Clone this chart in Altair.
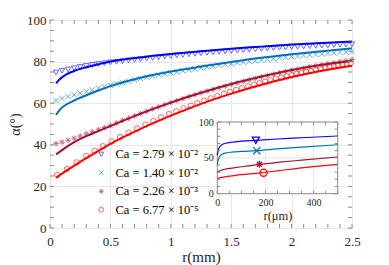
import altair as alt
import pandas as pd

# ---------------- data ----------------
series_labels = ["Ca = 2.79 × 10⁻²", "Ca = 1.40 × 10⁻²", "Ca = 2.26 × 10⁻³", "Ca = 6.77 × 10⁻⁵"]
line_colors = ["#0000FF", "#0072BD", "#A2142F", "#FF0000"]
marker_shapes = [
    "triangle-down",
    "M-1,-1L1,1M-1,1L1,-1",
    "M-1,0L1,0M0,-1L0,1M-0.72,-0.72L0.72,0.72M-0.72,0.72L0.72,-0.72",
    "circle",
]

# model curves (main plot, r in mm, alpha in degrees)
r_line = [0.05, 0.08, 0.12, 0.2, 0.3, 0.4, 0.5, 0.75, 1.0, 1.25, 1.5, 1.75, 2.0, 2.25, 2.5]
line_blue = [69.5, 71.5, 73.3, 75.5, 77.3, 78.7, 80.0, 82.0, 83.6, 85.0, 86.2, 87.2, 88.2, 89.0, 89.6]
line_teal = [54.3, 56.8, 58.8, 61.3, 63.8, 66.1, 68.2, 72.2, 75.2, 77.6, 79.8, 81.8, 83.5, 85.0, 86.4]
line_dred = [35.4, 36.6, 38.3, 41.3, 44.2, 46.6, 49.0, 55.0, 60.3, 65.0, 69.2, 72.8, 76.0, 78.5, 80.4]
line_red = [24.2, 25.4, 27.0, 30.0, 33.6, 37.1, 40.5, 47.7, 54.0, 59.7, 64.6, 68.9, 72.6, 75.6, 78.0]

# measured points
r_dense = [0.05, 0.10, 0.15, 0.20, 0.25, 0.30, 0.35, 0.40, 0.45, 0.50,
           0.55, 0.60, 0.65, 0.70, 0.75, 0.80, 0.85, 0.90, 0.95, 1.00,
           1.05, 1.10, 1.15, 1.20, 1.25, 1.30, 1.35, 1.40, 1.45, 1.50,
           1.55, 1.60, 1.65, 1.70, 1.75, 1.80, 1.85, 1.90, 1.95, 2.00,
           2.05, 2.10, 2.15, 2.20, 2.25, 2.30, 2.35, 2.40, 2.45, 2.50]
mk_blue = [74.8, 75.6, 76.2, 76.8, 77.4, 77.9, 78.4, 78.8, 79.2, 79.6,
           79.9, 80.2, 80.6, 80.9, 81.2, 81.5, 81.8, 82.1, 82.4, 82.7,
           83.0, 83.2, 83.5, 83.7, 84.0, 84.2, 84.5, 84.7, 84.9, 85.1,
           85.3, 85.5, 85.7, 85.9, 86.1, 86.3, 86.5, 86.7, 86.8, 87.0,
           87.1, 87.3, 87.4, 87.6, 87.7, 87.8, 88.0, 88.1, 88.2, 88.3]
mk_teal = [61.3, 62.3, 63.2, 64.0, 64.8, 65.6, 66.4, 67.2, 67.9, 68.6,
           69.3, 70.0, 70.6, 71.3, 71.9, 72.5, 73.0, 73.6, 74.1, 74.6,
           75.1, 75.6, 76.1, 76.5, 77.0, 77.4, 77.8, 78.2, 78.6, 79.0,
           79.4, 79.7, 80.1, 80.4, 80.8, 81.1, 81.4, 81.8, 82.1, 82.4,
           82.7, 82.9, 83.2, 83.4, 83.7, 83.9, 84.2, 84.4, 84.6, 84.8]
mk_dred = [40.6, 41.3, 42.2, 43.2, 44.2, 45.3, 46.3, 47.3, 48.3, 49.3,
           50.5, 51.7, 52.8, 53.9, 55.0, 56.1, 57.2, 58.2, 59.3, 60.3,
           61.3, 62.2, 63.2, 64.1, 65.0, 65.8, 66.6, 67.4, 68.2, 69.0,
           69.8, 70.5, 71.2, 71.9, 72.6, 73.3, 73.9, 74.6, 75.2, 75.8,
           76.4, 76.9, 77.5, 78.0, 78.5, 79.0, 79.5, 80.0, 80.5, 81.0]
r_red_mk = [0.06, 0.14, 0.22, 0.30, 0.37, 0.44, 0.51, 0.58, 0.65, 0.72,
            0.79, 0.855, 0.92, 0.985, 1.045, 1.105, 1.165, 1.22, 1.275, 1.33,
            1.385, 1.44, 1.49, 1.54, 1.59, 1.64, 1.69, 1.735, 1.78, 1.825,
            1.87, 1.915, 1.96, 2.0, 2.04, 2.08, 2.12, 2.16, 2.2, 2.24,
            2.28, 2.315, 2.35, 2.385, 2.42, 2.455, 2.49]
mk_red = [25.5, 28.4, 31.5, 34.6, 37.1, 39.3, 41.6, 43.7, 45.8, 47.8,
          49.7, 51.4, 53.1, 54.7, 56.1, 57.5, 58.8, 60.0, 61.2, 62.3,
          63.4, 64.5, 65.4, 66.3, 67.2, 68.1, 68.9, 69.6, 70.3, 71.0,
          71.7, 72.3, 72.9, 73.4, 74.0, 74.5, 75.0, 75.5, 76.0, 76.4,
          76.9, 77.3, 77.7, 78.1, 78.5, 78.9, 79.2]

# inset (r in micrometres)
inset_r = [0, 2, 5, 10, 20, 35, 60, 100, 160, 250, 350, 500]
inset_blue = [53.5, 58.0, 62.0, 65.5, 68.5, 70.3, 71.8, 73.2, 74.5, 76.3, 78.0, 80.5]
inset_teal = [40.5, 44.5, 48.5, 52.0, 55.0, 56.8, 58.0, 59.0, 60.0, 62.5, 65.0, 68.3]
inset_dred = [28.9, 30.0, 31.0, 32.0, 33.2, 34.3, 35.6, 37.6, 40.3, 43.6, 46.8, 51.2]
inset_red = [20.9, 21.3, 21.7, 22.2, 22.9, 23.7, 24.8, 26.5, 28.4, 31.9, 36.1, 41.0]
inset_mk_r = [160, 164, 175, 192]
inset_mk_a = [74.5, 60.0, 41.0, 29.3]

# ticks
x_major = [0, 0.5, 1, 1.5, 2, 2.5]
x_minor = [round(0.1 * i, 1) for i in range(26)]
y_major = [0, 20, 40, 60, 80, 100]
y_minor = list(range(0, 101, 5))
inset_x_labels = [0, 200, 400]
inset_x_minor = list(range(0, 501, 50))
inset_y_labels = [0, 50, 100]
inset_y_minor = list(range(0, 101, 10))
inset_grid_x = [200, 400]
inset_grid_y = [50]

# ---------------- style / layout ----------------
W, H = 302, 208
FONT = "Liberation Serif"
FRAME = "#8a8a8a"
GRID = "#e6e6e6"
TXT = "#262626"
TL = 4  # inward tick length
IX0, IX1 = 167.3, 287.7   # inset pixel range (x)
IY0, IY1 = 173.7, 102.0   # inset pixel range (y, bottom -> top)

x_scale = alt.Scale(domain=[0, 2.5], nice=False, zero=False)
y_scale = alt.Scale(domain=[0, 100], nice=False, zero=False)
x_axis = alt.Axis(values=x_major, format="~g", title="r(mm)", grid=True, gridColor=GRID,
                  ticks=False, domain=False, labelPadding=7, labelFont=FONT, labelFontSize=13,
                  labelColor=TXT, labelFlush=False, titleFont=FONT, titleFontSize=15,
                  titleFontWeight="normal", titleColor=TXT, titleBaseline="alphabetic",
                  titleY=33)
y_axis = alt.Axis(values=y_major, title="α(°)", grid=True, gridColor=GRID,
                  ticks=False, domain=False, labelPadding=4, labelFont=FONT, labelFontSize=13,
                  labelColor=TXT, labelFlush=False, titleFont=FONT, titleFontSize=14,
                  titleFontWeight="normal", titleColor=TXT, titleBaseline="middle",
                  titleX=-34.5)


def X(f="r"):
    return alt.X(f"{f}:Q", scale=x_scale, axis=x_axis)


def Y(f="a"):
    return alt.Y(f"{f}:Q", scale=y_scale, axis=y_axis)


rows = []
for lab, rs, vals in zip(series_labels, [r_dense, r_dense, r_dense, r_red_mk],
                         [mk_blue, mk_teal, mk_dred, mk_red]):
    rows += [{"s": lab, "r": r, "a": v} for r, v in zip(rs, vals)]
df_mk = pd.DataFrame(rows)

leg = alt.Legend(title=None, orient="none", legendX=45, legendY=128, labelFont=FONT,
                 labelFontSize=12.5, labelColor="black", symbolStrokeWidth=1, symbolSize=24,
                 rowPadding=5.5, labelOffset=8, padding=0, symbolOpacity=0.8)

markers = alt.Chart(df_mk).mark_point(filled=False, strokeWidth=1, size=30).encode(
    x=X(), y=Y(),
    color=alt.Color("s:N", scale=alt.Scale(domain=series_labels, range=line_colors), legend=leg),
    shape=alt.Shape("s:N", scale=alt.Scale(domain=series_labels, range=marker_shapes), legend=leg),
    opacity=alt.Opacity("s:N", scale=alt.Scale(domain=series_labels, range=[0.6, 0.6, 0.6, 1.0]),
                        legend=None),
)

line_layers = []
for col, vals in zip(line_colors, [line_blue, line_teal, line_dred, line_red]):
    d = pd.DataFrame({"r": r_line, "a": vals})
    line_layers.append(alt.Chart(d).mark_line(color=col, strokeWidth=2, interpolate="monotone")
                       .encode(x=X(), y=Y()))

tx = pd.DataFrame({"r": x_minor})
ty = pd.DataFrame({"a": y_minor})
tick_b = alt.Chart(tx).mark_rule(color=FRAME).encode(x=X(), y=alt.value(H), y2=alt.value(H - TL))
tick_t = alt.Chart(tx).mark_rule(color=FRAME).encode(x=X(), y=alt.value(0), y2=alt.value(TL))
tick_l = alt.Chart(ty).mark_rule(color=FRAME).encode(y=Y(), x=alt.value(0), x2=alt.value(TL))
tick_r = alt.Chart(ty).mark_rule(color=FRAME).encode(y=Y(), x=alt.value(W), x2=alt.value(W - TL))

main = alt.layer(markers, *line_layers, tick_b, tick_t, tick_l, tick_r)

# ---------------- inset ----------------
ixs = alt.Scale(domain=[0, 500], range=[IX0, IX1], nice=False, zero=False)
iys = alt.Scale(domain=[0, 100], range=[IY0, IY1], nice=False, zero=False)
ix_axis = alt.Axis(orient="bottom", offset=-(H - IY0), values=inset_x_labels, title="r(μm)",
                   grid=False, ticks=False, domain=False, labelPadding=4, labelFont=FONT,
                   labelFontSize=10, labelColor=TXT, labelFlush=False, titleFont=FONT,
                   titleFontSize=12.5, titleFontWeight="normal", titleColor=TXT, titlePadding=2)
iy_axis = alt.Axis(orient="left", offset=-IX0, values=inset_y_labels, title=None,
                   grid=False, ticks=False, domain=False, labelPadding=4, labelFont=FONT,
                   labelFontSize=10, labelColor=TXT, labelFlush=False)


def IX(f="ri"):
    return alt.X(f"{f}:Q", scale=ixs, axis=ix_axis)


def IY(f="ai"):
    return alt.Y(f"{f}:Q", scale=iys, axis=iy_axis)


one = pd.DataFrame({"k": [0]})
frame = alt.Chart(one).mark_rect(fill="white", stroke=FRAME, strokeWidth=1).encode(
    x=alt.X(datum=0, type="quantitative", scale=ixs, axis=ix_axis), x2=alt.X2(datum=500),
    y=alt.Y(datum=0, type="quantitative", scale=iys, axis=iy_axis), y2=alt.Y2(datum=100))
igx = alt.Chart(pd.DataFrame({"ri": inset_grid_x})).mark_rule(color=GRID).encode(
    x=IX(), y=alt.Y(datum=0, type="quantitative", scale=iys, axis=iy_axis), y2=alt.Y2(datum=100))
igy = alt.Chart(pd.DataFrame({"ai": inset_grid_y})).mark_rule(color=GRID).encode(
    y=IY(), x=alt.X(datum=0, type="quantitative", scale=ixs, axis=ix_axis), x2=alt.X2(datum=500))

ilines = []
for col, vals in zip(line_colors, [inset_blue, inset_teal, inset_dred, inset_red]):
    d = pd.DataFrame({"ri": inset_r, "ai": vals})
    ilines.append(alt.Chart(d).mark_line(color=col, strokeWidth=1.2, interpolate="monotone")
                  .encode(x=IX(), y=IY()))
imarks = []
for col, shp, r, a in zip(line_colors, marker_shapes, inset_mk_r, inset_mk_a):
    d = pd.DataFrame({"ri": [r], "ai": [a]})
    imarks.append(alt.Chart(d).mark_point(shape=shp, color=col, filled=False, size=50,
                                          strokeWidth=1.3, opacity=1).encode(x=IX(), y=IY()))

itx = pd.DataFrame({"ri": inset_x_minor})
ity = pd.DataFrame({"ai": inset_y_minor})
ITL = 3
itick_b = alt.Chart(itx).mark_rule(color=FRAME).encode(x=IX(), y=alt.value(IY0), y2=alt.value(IY0 - ITL))
itick_t = alt.Chart(itx).mark_rule(color=FRAME).encode(x=IX(), y=alt.value(IY1), y2=alt.value(IY1 + ITL))
itick_l = alt.Chart(ity).mark_rule(color=FRAME).encode(y=IY(), x=alt.value(IX0), x2=alt.value(IX0 + ITL))
itick_r = alt.Chart(ity).mark_rule(color=FRAME).encode(y=IY(), x=alt.value(IX1), x2=alt.value(IX1 - ITL))

inset = alt.layer(frame, igx, igy, *ilines, *imarks, itick_b, itick_t, itick_l, itick_r)

chart = (
    alt.layer(main, inset)
    .resolve_scale(x="independent", y="independent")
    .properties(width=W, height=H, autosize=alt.AutoSizeParams(type="none"),
                padding={"left": 42, "top": 12, "right": 25, "bottom": 40},
                background="white")
    .configure(font=FONT)
    .configure_view(stroke=FRAME, strokeWidth=1)
)

chart.save("out.html", embed_options={"renderer": "svg", "actions": False})
